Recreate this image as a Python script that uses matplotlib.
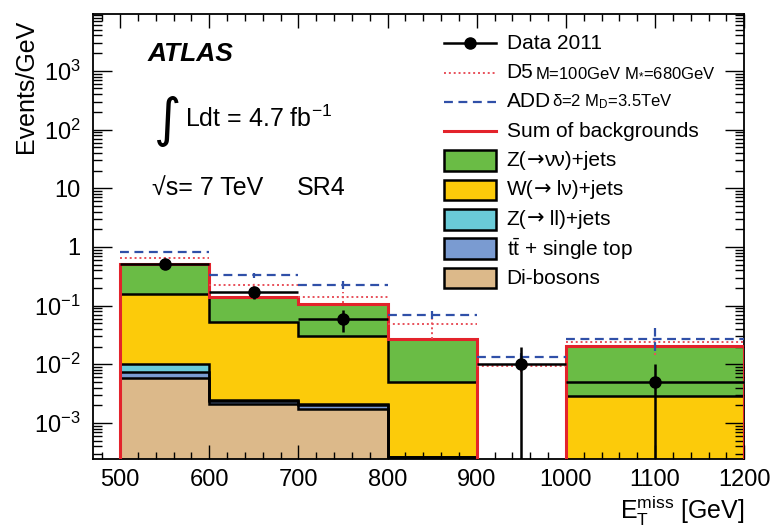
import numpy as np
import matplotlib
matplotlib.use("Agg")
from matplotlib import pyplot as plt
from matplotlib.patches import Rectangle
from matplotlib.lines import Line2D
from matplotlib.ticker import FixedLocator, FixedFormatter, MultipleLocator, LogLocator, NullFormatter

plt.rcParams['font.family'] = ['Liberation Sans', 'DejaVu Sans']
plt.rcParams['mathtext.fontset'] = 'custom'
plt.rcParams['mathtext.rm'] = 'Liberation Sans'
plt.rcParams['mathtext.it'] = 'Liberation Sans:italic'
plt.rcParams['mathtext.bf'] = 'Liberation Sans:bold'

# binning in ETmiss [GeV]
edges = [500, 600, 700, 800, 900, 1000, 1200]
centres = [550, 650, 750, 850, 950, 1100]

# backgrounds, Events/GeV per bin (not stacked)
dibosons = [0.0058, 0.0021, 0.0017, 0.00026, 0.0, 0.0]
ttbar = [0.0017, 0.0003, 0.0003, 0.0, 0.0, 0.0]
zll = [0.0025, 0.0001, 0.0001, 0.0, 0.0, 0.0]
wlnu = [0.146, 0.0505, 0.0279, 0.00474, 0.0, 0.0029]
znunu = [0.351, 0.089, 0.078, 0.022, 0.0, 0.0177]

# data 2011
data = [0.51, 0.17, 0.06, 0.0, 0.01, 0.005]
data_err = [0.07, 0.041, 0.0245, 0.0, 0.01, 0.005]

# signals
add_sig = [0.82, 0.33, 0.225, 0.069, 0.0134, 0.0268]
add_lo = [0.03, 0.03, 0.035, 0.009, 0.0025, 0.01]
add_hi = [0.03, 0.03, 0.035, 0.011, 0.0025, 0.015]
d5_sig = [0.64, 0.22, 0.14, 0.049, 0.0095, 0.0244]
d5_lo = [0.02, 0.02, 0.03, 0.022, 0.002, 0.01]
d5_hi = [0.02, 0.02, 0.03, 0.016, 0.002, 0.016]

c_green = '#6abc45'
c_yellow = '#fccb0a'
c_cyan = '#6acbd8'
c_blue = '#7a9bd1'
c_tan = '#dcb98a'
c_red = '#e3232b'
c_add = '#3050a8'
c_d5 = '#e8505a'

fig = plt.figure(figsize=(7.76, 5.28), dpi=100)
ax = fig.add_axes([0.1202, 0.1301, 0.8389, 0.8434])
ax.set_yscale('log')

floor = 1e-6
halfw = np.diff(edges) / 2.0

# stacked backgrounds
stack = [(dibosons, c_tan), (ttbar, c_blue), (zll, c_cyan), (wlnu, c_yellow), (znunu, c_green)]
bottom = np.zeros(len(centres))
for vals, col in stack:
    top = bottom + np.array(vals)
    ax.stairs(np.maximum(top, floor), edges, baseline=np.maximum(bottom, floor),
              fill=True, color=col, zorder=1)
    ax.stairs(np.maximum(top, floor), edges, baseline=floor, color='k', lw=1.8, zorder=2)
    bottom = top
total = bottom
ax.stairs(np.maximum(total, floor), edges, baseline=floor, color=c_red, lw=2.2, zorder=3)

# signals
def signal(vals, lo, hi, color, ls, lw):
    eb = ax.errorbar(centres, vals, xerr=halfw, yerr=[lo, hi], fmt='none',
                     ecolor=color, elinewidth=lw, capsize=0, zorder=4)
    for coll in eb[2]:
        coll.set_linestyle(ls)

signal(d5_sig, d5_lo, d5_hi, c_d5, (0, (1, 1.5)), 1.4)
signal(add_sig, add_lo, add_hi, c_add, (0, (4, 2.5)), 1.6)

# data points
data = np.array(data)
mask = data > 0
ax.errorbar(np.array(centres)[mask], data[mask], xerr=halfw[mask], yerr=np.array(data_err)[mask],
            fmt='o', color='k', ms=8, elinewidth=1.8, capsize=0, zorder=6)

ax.set_xlim(470, 1200)
ax.set_ylim(2.4e-4, 9.3e3)

ax.xaxis.set_major_locator(MultipleLocator(100))
ax.xaxis.set_minor_locator(MultipleLocator(20))
dec = [1e-3, 1e-2, 1e-1, 1, 10, 100, 1000]
dec_lab = [r'$\mathregular{10^{-3}}$', r'$\mathregular{10^{-2}}$', r'$\mathregular{10^{-1}}$',
           '1', '10', r'$\mathregular{10^{2}}$', r'$\mathregular{10^{3}}$']
ax.yaxis.set_major_locator(FixedLocator(dec))
ax.yaxis.set_major_formatter(FixedFormatter(dec_lab))
ax.yaxis.set_minor_locator(LogLocator(base=10, subs=np.arange(2, 10), numticks=30))
ax.yaxis.set_minor_formatter(NullFormatter())

ax.tick_params(which='both', direction='in', top=True, right=True, width=1.0, labelsize=17)
ax.tick_params(axis='y', which='major', length=13.5, pad=9)
ax.tick_params(axis='y', which='minor', length=6.5)
ax.tick_params(axis='x', which='major', length=10, pad=7)
ax.tick_params(axis='x', which='minor', length=5)
for sp in ax.spines.values():
    sp.set_linewidth(1.3)

ax.set_ylabel('Events/GeV', loc='top', fontsize=18)
ax.yaxis.set_label_coords(-0.085, 0.9865)
ax.set_xlabel(r'$\mathregular{E_{T}^{miss}}$ [GeV]', loc='right', fontsize=18)
ax.xaxis.set_label_coords(1.0, -0.077)

# labels
ax.text(0.084, 0.911, 'ATLAS', transform=ax.transAxes, fontsize=19, fontweight='bold',
        fontstyle='italic', va='center', ha='left')
ax.text(0.094, 0.7586, '\u222b', transform=ax.transAxes, fontsize=38, va='center', ha='left',
        family='DejaVu Sans')
ax.text(0.141, 0.746, r'Ldt = 4.7 $\mathregular{fb^{-1}}$', transform=ax.transAxes,
        fontsize=18, va='baseline', ha='left')
ax.text(0.0899, 0.5935, '\u221as= 7 TeV', transform=ax.transAxes, fontsize=18, va='baseline', ha='left')
ax.text(0.3129, 0.5935, 'SR4', transform=ax.transAxes, fontsize=18, va='baseline', ha='left')

# legend
lx0, lx1, tx = 0.539, 0.619, 0.635
row_y = [(459.3 - (43.3 + i * 29.34)) / 445.3 for i in range(9)]
box_h = 0.0465
ax.add_line(Line2D([lx0, lx1], [row_y[0]] * 2, color='k', lw=1.8, transform=ax.transAxes))
ax.add_line(Line2D([(lx0 + lx1) / 2], [row_y[0]], color='k', marker='o', ms=8, transform=ax.transAxes))
ax.add_line(Line2D([lx0, lx1], [row_y[1]] * 2, color=c_d5, lw=1.4, ls=(0, (1, 1.5)), transform=ax.transAxes))
ax.add_line(Line2D([lx0, lx1], [row_y[2]] * 2, color=c_add, lw=1.6, ls=(0, (4, 2.5)), transform=ax.transAxes))
ax.add_line(Line2D([lx0, lx1], [row_y[3]] * 2, color=c_red, lw=2.2, transform=ax.transAxes))
box_cols = [c_green, c_yellow, c_cyan, c_blue, c_tan]
for i, col in enumerate(box_cols):
    y = row_y[4 + i]
    ax.add_patch(Rectangle((lx0, y - box_h / 2), lx1 - lx0, box_h, facecolor=col, edgecolor='k',
                           lw=1.8, transform=ax.transAxes, zorder=7))

LIB = 'Liberation Sans'
DJV = 'DejaVu Sans'
ARROW = '\u2192'
labels = [
    [('Data 2011', LIB)],
    [('D5', LIB)],
    [('ADD', LIB)],
    [('Sum of backgrounds', LIB)],
    [('Z(', LIB), (ARROW, DJV), ('\u03bd\u03bd)+jets', LIB)],
    [('W(', LIB), (ARROW, DJV), (' l\u03bd)+jets', LIB)],
    [('Z(', LIB), (ARROW, DJV), (' ll)+jets', LIB)],
    [(r'$\mathregular{t\bar{t}}$ + single top', LIB)],
    [('Di-bosons', LIB)],
]

def chain(x, y, parts, size=15):
    t = ax.text(x, y, parts[0][0], transform=ax.transAxes, fontsize=size,
                va='center', ha='left', family=parts[0][1])
    for s, fam in parts[1:]:
        t = ax.annotate(s, xy=(1, 0), xycoords=t, fontsize=size, va='bottom', ha='left', family=fam)
    return t

for y, parts in zip(row_y, labels):
    chain(tx, y, parts)
ax.text(0.6785, row_y[1], r'M=100GeV $\mathregular{M_{*}}$=680GeV', transform=ax.transAxes,
        fontsize=12, va='center', ha='left')
ax.text(0.7045, row_y[2], '\u03b4=2 ' + r'$\mathregular{M_{D}}$=3.5TeV',
        transform=ax.transAxes, fontsize=12, va='center', ha='left')

fig.savefig('out.png', dpi=100)
